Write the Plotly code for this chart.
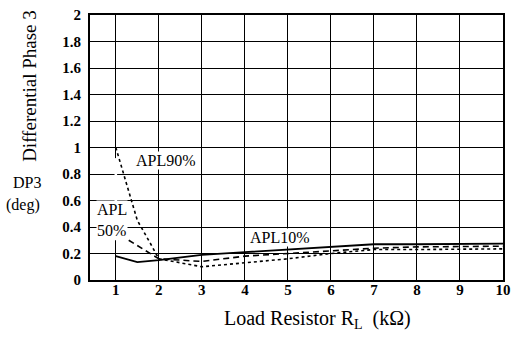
import plotly.graph_objects as go

# Load resistor (kOhm) and differential phase DP3 (deg) for three APL levels
rl_apl10 = [1, 1.5, 2, 3, 4, 5, 6, 7, 8, 9, 10]
dp_apl10 = [0.18, 0.135, 0.15, 0.19, 0.21, 0.23, 0.25, 0.27, 0.27, 0.27, 0.275]

rl_apl50 = [1.3, 1.8, 2, 2.5, 3, 4, 5, 6, 7, 8, 9, 10]
dp_apl50 = [0.30, 0.20, 0.16, 0.15, 0.14, 0.18, 0.20, 0.22, 0.24, 0.25, 0.25, 0.255]

rl_apl90 = [1, 1.25, 1.5, 1.78, 2, 2.5, 3, 4, 5, 6, 7, 8, 9, 10]
dp_apl90 = [1.0, 0.73, 0.45, 0.29, 0.16, 0.13, 0.10, 0.13, 0.16, 0.20, 0.23, 0.23, 0.23, 0.235]

x_ticks = [1, 2, 3, 4, 5, 6, 7, 8, 9, 10]
y_ticks = [0, 0.2, 0.4, 0.6, 0.8, 1, 1.2, 1.4, 1.6, 1.8, 2]

SERIF = "Liberation Serif, Times New Roman, serif"

fig = go.Figure()
fig.add_trace(go.Scatter(x=rl_apl10, y=dp_apl10, mode="lines",
                         line=dict(color="black", width=1.8)))
fig.add_trace(go.Scatter(x=rl_apl50, y=dp_apl50, mode="lines",
                         line=dict(color="black", width=1.6, dash="6px,4px")))
fig.add_trace(go.Scatter(x=rl_apl90, y=dp_apl90, mode="lines",
                         line=dict(color="black", width=1.6, dash="3px,3px")))

axis_common = dict(showgrid=True, gridcolor="black", gridwidth=1,
                   showline=True, linecolor="black", linewidth=2, mirror=True,
                   zeroline=False, ticks="",
                   tickfont=dict(family=SERIF, size=15, color="black", weight="bold"))

fig.update_xaxes(range=[0.4, 10], tickvals=x_ticks, ticklabelstandoff=-5, **axis_common)
fig.update_yaxes(range=[0, 2], tickvals=y_ticks, ticklabelstandoff=4, **axis_common)

# break in the R=1 grid line behind the curve labels
fig.add_shape(type="rect", x0=0.97, x1=1.03, y0=0.3, y1=0.92, xref="x", yref="y",
              fillcolor="white", line=dict(width=0), layer="between")

label_font = dict(family=SERIF, size=16, color="black")
annotations = [
    dict(x=2.17, y=0.90, xref="x", yref="y", text="APL90%", showarrow=False,
         font=label_font, bgcolor="white", borderpad=0),
    dict(x=0.53, y=0.45, xref="x", yref="y", text="APL<br>50%", showarrow=False,
         xanchor="left", align="left", font=label_font, bgcolor="white", borderpad=0),
    dict(x=4.81, y=0.32, xref="x", yref="y", text="APL10%", showarrow=False,
         font=label_font, bgcolor="white", borderpad=0),
    dict(x=30, y=80, text="Differential Phase 3", textangle=-90,
         font=dict(family=SERIF, size=19, color="black")),
    dict(x=27, y=180, text="DP3", font=dict(family=SERIF, size=16, color="black")),
    dict(x=23, y=203, text="(deg)", font=dict(family=SERIF, size=16, color="black")),
    dict(x=317, y=321, text="Load Resistor R<sub>L</sub>  (k\u03a9)",
         font=dict(family=SERIF, size=20, color="black")),
]

# pixel-placed labels outside the plot area: convert to paper coordinates
W, H = 519, 343
ML, MR, MT, MB = 90, 16, 7, 63
pw, ph = W - ML - MR, H - MT - MB
for a in annotations:
    if a.get("xref") == "x":
        continue
    px, py = a["x"], a["y"]
    a.update(x=(px - ML) / pw, y=1 - (py - MT) / ph, xref="paper", yref="paper",
             xanchor="center", yanchor="middle", showarrow=False)

fig.update_layout(
    width=W, height=H,
    margin=dict(l=ML, r=MR, t=MT, b=MB),
    paper_bgcolor="white", plot_bgcolor="white",
    showlegend=False,
    annotations=annotations,
)

fig.write_html("out.html")
